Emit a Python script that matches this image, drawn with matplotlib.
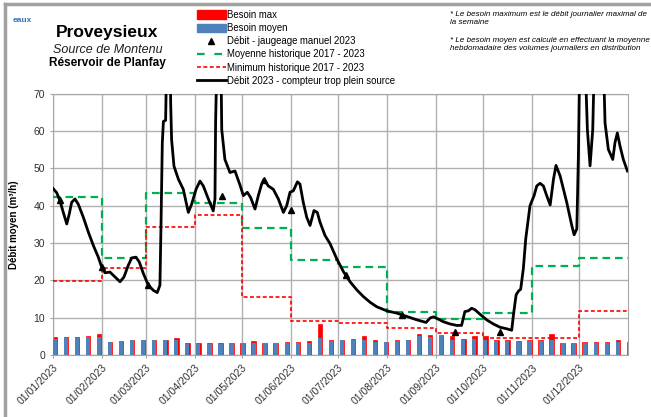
import numpy as np
import pandas as pd
import matplotlib
matplotlib.use('Agg')
import matplotlib.pyplot as plt
from matplotlib.lines import Line2D
from matplotlib.patches import Patch

plt.rcParams['font.family'] = ['Liberation Sans', 'DejaVu Sans']
plt.rcParams['lines.scale_dashes'] = False

# Besoins hebdomadaires (m3/h), une barre par semaine a partir du 01/01/2023
besoin_max = [4.8, 4.8, 4.8, 5.1, 5.5, 3.5, 3.8, 4.05, 4.1, 4.1, 4.1, 4.4, 3.15, 3.15,
              3.15, 3.15, 3.3, 3.3, 3.8, 3.3, 3.3, 3.5, 3.4, 3.8, 8.2, 4.05, 4.1, 4.2,
              4.95, 3.9, 3.5, 3.9, 4.1, 5.7, 5.4, 5.3, 5.0, 4.2, 5.0, 5.0, 4.1, 4.05,
              3.7, 3.9, 3.9, 5.7, 3.3, 3.3, 3.4, 3.4, 3.4, 4.05, 3.4]
besoin_moyen = [4.3, 4.4, 4.6, 4.8, 4.8, 3.4, 3.6, 3.9, 3.9, 3.9, 4.0, 3.9, 2.9, 2.9,
                2.8, 2.8, 3.15, 3.1, 3.2, 3.1, 3.15, 3.2, 3.2, 3.3, 4.6, 3.6, 3.9, 4.1,
                4.1, 3.5, 3.4, 3.7, 4.0, 5.0, 4.9, 5.2, 4.1, 4.1, 4.3, 4.05, 3.7, 3.6,
                3.5, 3.6, 3.7, 4.1, 3.15, 3.15, 3.2, 3.2, 3.2, 3.5, 3.15]

# Historique mensuel 2017 - 2023
moyenne_hist = [42.2, 26.1, 43.5, 40.8, 34.1, 25.4, 23.6, 11.5, 9.7, 11.3, 23.7, 26.0]
minimum_hist = [19.7, 23.2, 34.3, 37.5, 15.4, 9.0, 8.6, 7.1, 5.9, 4.4, 4.4, 11.7]

# Jaugeages manuels (jour de l'annee, m3/h)
jauge_jours = [4.6, 31, 60.2, 107.2, 134, 151.1, 186, 221.3, 255.3, 283.4]
jauge_debit = [41.5, 23.5, 18.7, 42.5, 46.9, 38.9, 21.4, 10.7, 6.1, 6.1]

# Debit 2023 compteur trop plein (jour de l'annee, m3/h)
debit_jours = [0, 2.5, 4.6, 6.7, 8.9, 10.5, 12, 14.1, 16.2, 19.4, 22.6, 25.8, 28.9, 31,
               33.2, 36.3, 39.5, 42.7, 45.2, 47.9, 50.1, 52.8, 54.9, 57.5, 60.6, 63.8,
               66.3, 68.0, 68.7, 69.5, 70.2, 71.6, 72.3, 73.3, 74.4, 74.8, 75.4, 76.9,
               79.7, 82.8, 86, 88.1, 90.9, 93.4, 95.5, 98.7, 101.8, 102.9, 103.3, 104.4,
               105.5, 106.5, 107.2, 109.2, 112.4, 115.6, 118.8, 120.9, 123.4, 125.5,
               128.3, 130.4, 132.5, 134, 136.7, 139.9, 143.1, 146.3, 148.4, 150.5,
               152.6, 155.2, 156.8, 158.9, 161.1, 163.2, 165.7, 167.8, 169.5, 172.7,
               175.9, 180.1, 184.4, 188.6, 192.9, 197.1, 201.3, 205.5, 211.9, 218.2,
               224.6, 230.9, 236.8, 239.4, 241.5, 243.5, 247.7, 251.9, 256.2, 259.3,
               261.4, 263.6, 265.7, 267.8, 271, 275.2, 279.4, 283.7, 287.9, 291.1,
               292.2, 293.9, 295.4, 296.8, 298.5, 300, 301.1, 302.7, 305.3, 307, 309.1,
               311.2, 313.3, 315.5, 317.6, 319.2, 321.8, 326, 329.2, 330.7, 332.4,
               333.4, 334.1, 336, 337.6, 339.1, 340.8, 342.5, 343.3, 346, 349.2, 350.3,
               352.4, 355.2, 356.6, 358.1, 359.8, 361.9, 364.5]
debit_2023 = [44.7, 43.5, 41.3, 38.2, 35.1, 37.8, 40.9, 41.8, 40.4, 36.9, 32.9, 29.3, 26.2,
              23.6, 22.0, 22.2, 20.9, 19.6, 20.9, 24.0, 26.0, 26.2, 24.9, 21.8, 18.7,
              17.3, 16.7, 18.7, 35.5, 56.9, 62.6, 62.9, 80, 95, 85, 67.5, 57.7, 50.6,
              47.1, 44.4, 38.2, 40.4, 44.4, 46.6, 45.3, 41.8, 38.6, 41.8, 62.2, 85,
              95, 85, 60.4, 52.4, 48.9, 49.3, 45.5, 42.7, 43.6, 42.2,
              39.1, 42.7, 45.8, 47.1, 45.3, 44.4, 41.8, 38.2, 40.0, 43.6,
              44.0, 46.4, 45.8, 40.9, 36.9, 34.7, 38.7, 38.2, 35.6, 32.0,
              29.8, 25.8, 22.3, 19.6, 17.4, 15.6, 14.1, 12.9, 11.8, 11.2,
              10.3, 9.4, 8.7, 9.9, 10.2, 9.8, 8.9, 8.3, 7.9, 7.9,
              11.6, 11.8, 12.5, 12.1, 10.9, 9.4, 8.3, 7.4, 7.0, 6.6,
              10.7, 16.1, 17.1, 17.6, 23.2, 31.1, 34.7, 40.0, 42.7, 45.3, 46.0,
              45.3, 42.7, 40.2, 47.1, 50.8, 48.0, 40.9, 34.7, 32.2, 33.8,
              53.3, 75, 95, 80, 60.4, 50.7, 60.4, 75, 95, 80, 62.2,
              55.1, 52.4, 56.9, 59.5, 56.0, 52.4, 49.3]

debut = pd.Timestamp('2023-01-01')
mois = pd.date_range('2023-01-01', '2023-12-01', freq='MS')
mois_jours = [(m - debut).days for m in mois]
mois_labels = [m.strftime('%d/%m/%Y') for m in mois]
semaines = np.arange(len(besoin_max)) * 7

fig = plt.figure(figsize=(6.51, 4.17), dpi=100)
ax = fig.add_axes([0.081, 0.149, 0.884, 0.626])

ax.bar(semaines, besoin_max, width=2.8, align='edge', color='#ff0000',
       edgecolor='#ff0000', linewidth=0.5, zorder=2)
ax.bar(semaines + 0.1, besoin_moyen, width=2.6, align='edge', color='#4f81bd', zorder=3)

# marches mensuelles
x_pas = mois_jours + [365]
ax.plot(x_pas, moyenne_hist + [moyenne_hist[-1]], drawstyle='steps-post',
        color='#00b050', lw=1.6, dashes=(5.5, 3.5), zorder=4)
ax.plot(x_pas, minimum_hist + [minimum_hist[-1]], drawstyle='steps-post',
        color='#ff0000', lw=1.2, dashes=(2.8, 1.8), zorder=4)

ax.plot(debit_jours, debit_2023, color='black', lw=2.0, zorder=5)
ax.plot(jauge_jours, jauge_debit, linestyle='none', marker='^', color='black',
        markersize=4.5, zorder=6)

ax.set_xlim(0, 365)
ax.set_ylim(0, 70)
ax.set_yticks(range(0, 71, 10))
ax.set_xticks(mois_jours)
ax.set_xticklabels(mois_labels, rotation=45, ha='right', rotation_mode='anchor')
ax.tick_params(labelsize=7.5, colors='#303030', length=2, color='#a6a6a6')
ax.grid(True, color='#b0b0b0', lw=1, zorder=0)
ax.set_axisbelow(True)
for s in ax.spines.values():
    s.set_color('#a6a6a6')
ax.set_ylabel('Débit moyen (m³/h)', fontsize=7, fontweight='bold')
ax.yaxis.set_label_coords(-0.058, 0.5)

# titres
fig.text(107 / 651, 1 - 32 / 417, 'Proveysieux', fontsize=12.5, fontweight='bold',
         ha='center', va='center')
fig.text(108 / 651, 1 - 50 / 417, 'Source de Montenu', fontsize=9, style='italic',
         ha='center', va='center', color='#202020')
fig.text(107 / 651, 1 - 63 / 417, 'Réservoir de Planfay', fontsize=8.5,
         fontweight='bold', ha='center', va='center')
fig.text(22 / 651, 1 - 20 / 417, 'eaux', fontsize=6, color='#3a6fb7',
         fontweight='bold', ha='center', va='center')

# notes
fig.text(450 / 651, 1 - 11 / 417,
         '* Le besoin maximum est le débit journalier maximal de\nla semaine',
         fontsize=5.8, style='italic', va='top', linespacing=1.2)
fig.text(450 / 651, 1 - 37 / 417,
         '* Le besoin moyen est calculé en effectuant la moyenne\n'
         'hebdomadaire des volumes journaliers en distribution',
         fontsize=5.8, style='italic', va='top', linespacing=1.2)

poignees = [
    Patch(color='#ff0000'),
    Patch(color='#4f81bd'),
    Line2D([], [], linestyle='none', marker='^', color='black', markersize=4),
    Line2D([], [], color='#00b050', lw=1.6, dashes=(5.5, 7)),
    Line2D([], [], color='#ff0000', lw=1.2, dashes=(2.8, 1.8)),
    Line2D([], [], color='black', lw=2),
]
noms = ['Besoin max', 'Besoin moyen', 'Débit - jaugeage manuel 2023',
        'Moyenne historique 2017 - 2023', 'Minimum historique 2017 - 2023',
        'Débit 2023 - compteur trop plein source']
fig.legend(poignees, noms, loc='upper left', bbox_to_anchor=(197 / 651, 1 - 10 / 417),
           frameon=False, fontsize=6.9, handlelength=3.0, handleheight=1.0,
           handletextpad=0.15, labelspacing=0.33, borderpad=0, borderaxespad=0)

# cadre gris
fig.add_artist(Line2D([5 / 651, 1], [1 - 4 / 417, 1 - 4 / 417], color='#a0a0a0', lw=2.5))
fig.add_artist(Line2D([5 / 651, 5 / 651], [0, 1 - 4 / 417], color='#a0a0a0', lw=2.5))

fig.savefig('out.png', dpi=100)
